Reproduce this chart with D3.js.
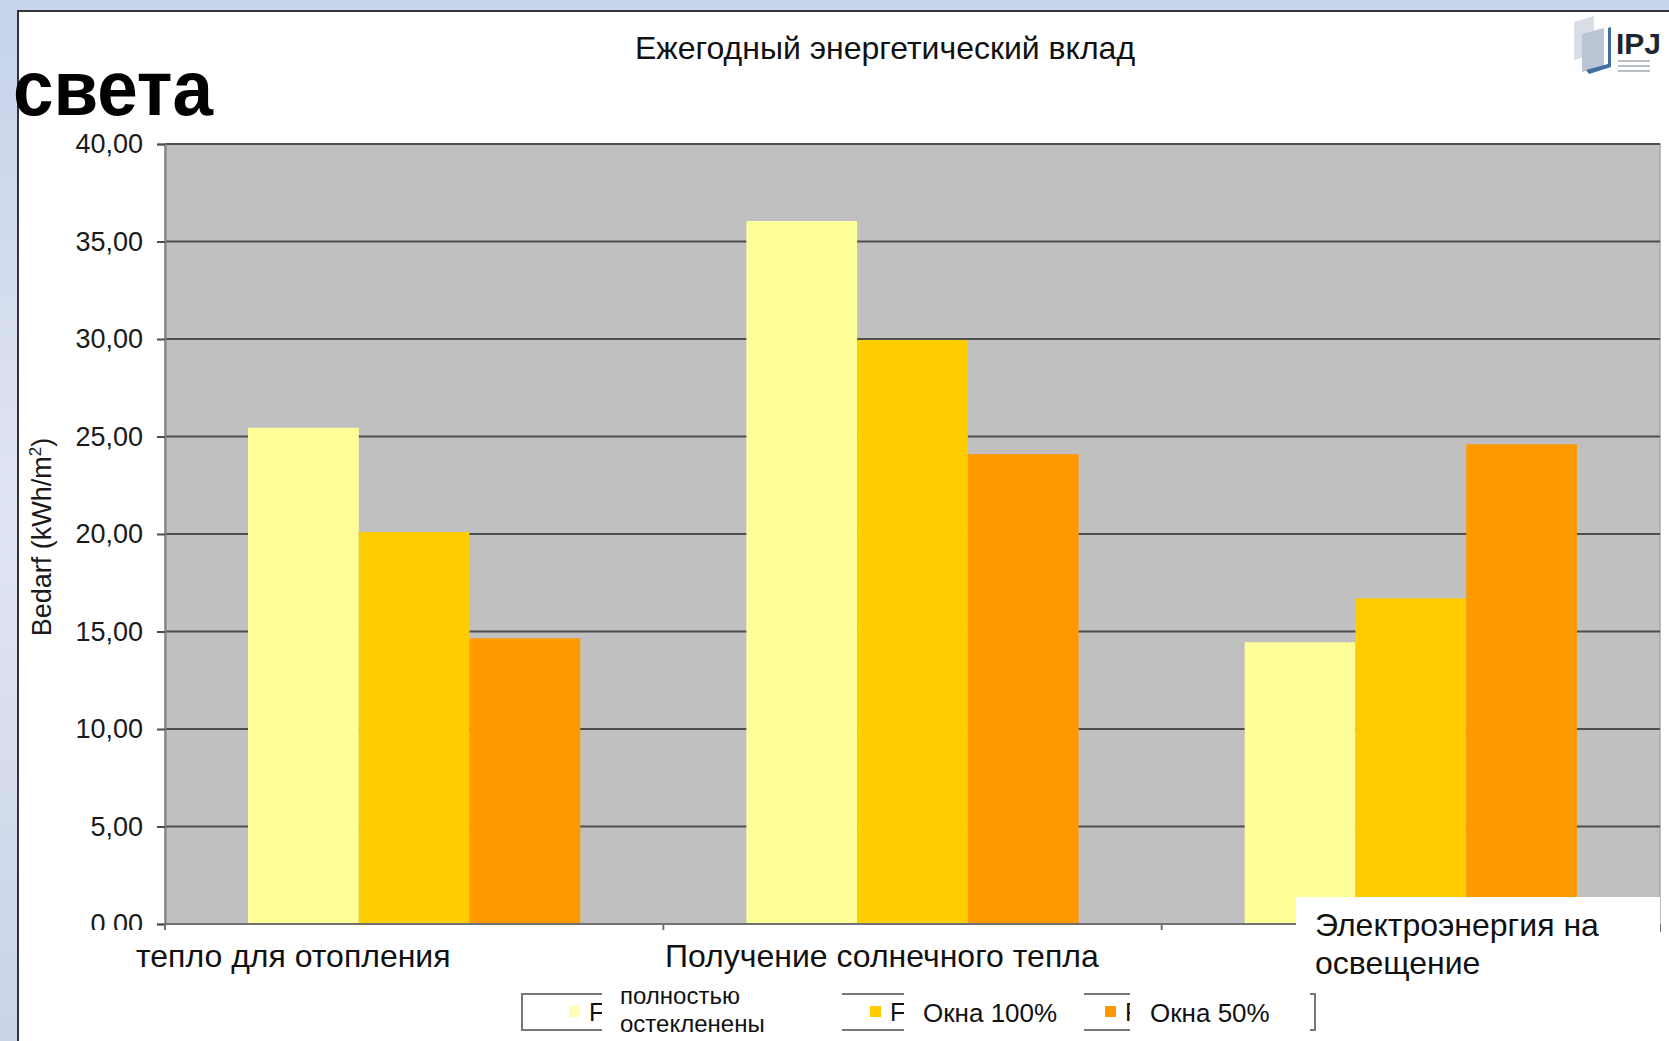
<!DOCTYPE html>
<html lang="ru">
<head>
<meta charset="UTF-8">
<title>Ежегодный энергетический вклад</title>
<style>
  html, body { margin: 0; padding: 0; background: #fff; }
  svg { display: block; font-family: "Liberation Sans", Arial, sans-serif; }
</style>
</head>
<body>
<div id="chart"></div>
<script src="https://d3js.org/d3.v7.min.js"></script>
<script>
// data
const categories = ['тепло для отопления', 'Получение солнечного тепла', 'Электроэнергия на освещение'];
const seriesNames = ['полностью остекленены', 'Окна 100%', 'Окна 50%'];
const fullyGlazed = [25.45, 36.05, 14.45];
const windows100 = [20.10, 29.95, 16.70];
const windows50 = [14.65, 24.10, 24.60];
const yTicks = [0, 5, 10, 15, 20, 25, 30, 35, 40];
const colors = ['#ffff99', '#ffcc00', '#ff9900'];

const seriesValues = [fullyGlazed, windows100, windows50];
const rows = categories.map((c, i) => ({
  cat: c,
  vals: seriesNames.map((s, j) => ({ key: s, value: seriesValues[j][i], color: colors[j] }))
}));

const W = 1669, H = 1041;
const plot = { left: 165, right: 1660, top: 144, bottom: 924 };

const svg = d3.select('#chart').append('svg')
  .attr('width', W).attr('height', H);

// slide background + chart frame
const defs = svg.append('defs');
const bg = defs.append('linearGradient').attr('id', 'slide-bg')
  .attr('x1', '0%').attr('y1', '0%').attr('x2', '0%').attr('y2', '100%');
bg.append('stop').attr('offset', '0%').attr('stop-color', '#c6d3ea');
bg.append('stop').attr('offset', '50%').attr('stop-color', '#dfe5f2');
bg.append('stop').attr('offset', '100%').attr('stop-color', '#c9d4e8');

svg.append('rect').attr('width', W).attr('height', H).attr('fill', 'url(#slide-bg)');
svg.append('rect')
  .attr('x', 18).attr('y', 11).attr('width', W).attr('height', H)
  .attr('fill', '#fff').attr('stroke', '#333').attr('stroke-width', 2);

// scales
const x0 = d3.scaleBand().domain(categories).range([plot.left, plot.right]).padding(0);
const x1 = d3.scaleBand().domain(seriesNames).range([0, x0.bandwidth()])
  .paddingInner(0).paddingOuter(0.75);
const y = d3.scaleLinear().domain([0, 40]).range([plot.bottom, plot.top]);

// plot area
svg.append('rect')
  .attr('x', plot.left).attr('y', plot.top)
  .attr('width', plot.right - plot.left).attr('height', plot.bottom - plot.top)
  .attr('fill', '#c0c0c0').attr('stroke', '#a8a8a8').attr('stroke-width', 1.5);

// gridlines
svg.append('g').selectAll('line')
  .data(yTicks.filter(d => d > 0))
  .enter().append('line')
  .attr('x1', plot.left).attr('x2', plot.right)
  .attr('y1', d => y(d)).attr('y2', d => y(d))
  .attr('stroke', '#4d4d4d').attr('stroke-width', 2);

// bars
const groups = svg.append('g').selectAll('g')
  .data(rows).enter().append('g')
  .attr('transform', d => `translate(${x0(d.cat)},0)`);

groups.selectAll('rect')
  .data(d => d.vals).enter().append('rect')
  .attr('x', d => x1(d.key))
  .attr('width', x1.bandwidth())
  .attr('y', d => y(d.value))
  .attr('height', d => y(0) - y(d.value))
  .attr('fill', d => d.color);

// y axis
const yAxis = d3.axisLeft(y).tickValues(yTicks).tickSize(8).tickPadding(14)
  .tickFormat(d => d3.format('.2f')(d).replace('.', ','));
const gy = svg.append('g').attr('transform', `translate(${plot.left},0)`).call(yAxis);
gy.select('.domain').attr('stroke', '#808080').attr('stroke-width', 2);
gy.selectAll('.tick line').attr('stroke', '#4d4d4d').attr('stroke-width', 2);
gy.selectAll('.tick text').attr('font-size', 27).attr('fill', '#1a1a1a')
  .attr('font-family', '"Liberation Sans", Arial, sans-serif');

// x axis (category separators)
const sep = categories.map(c => x0(c)).concat([plot.right]);
svg.append('line')
  .attr('x1', plot.left).attr('x2', plot.right)
  .attr('y1', plot.bottom).attr('y2', plot.bottom)
  .attr('stroke', '#707070').attr('stroke-width', 2);
svg.append('g').selectAll('line').data(sep).enter().append('line')
  .attr('x1', d => d).attr('x2', d => d)
  .attr('y1', plot.bottom).attr('y2', plot.bottom + 8)
  .attr('stroke', '#707070').attr('stroke-width', 2);

// axis title
svg.append('text')
  .attr('transform', 'translate(51,537) rotate(-90)')
  .attr('text-anchor', 'middle')
  .attr('font-size', 27).attr('fill', '#1a1a1a')
  .html('Bedarf (kWh/m<tspan dy="-10" font-size="17">2</tspan><tspan dy="10">)</tspan>');

// chart title
svg.append('text')
  .attr('x', 885).attr('y', 59)
  .attr('text-anchor', 'middle')
  .attr('font-size', 32).attr('fill', '#111')
  .text('Ежегодный энергетический вклад');

// overlaid slide word
svg.append('text')
  .attr('x', 13).attr('y', 115)
  .attr('font-size', 78).attr('font-weight', 'bold').attr('fill', '#000')
  .attr('textLength', 200).attr('lengthAdjust', 'spacingAndGlyphs')
  .text('света');

// logo (rough)
const logo = svg.append('g').attr('transform', 'translate(1564,14)');
logo.append('path').attr('d', 'M10,8 L30,2 L30,40 L10,46 Z').attr('fill', '#d8dde6');
logo.append('path').attr('d', 'M18,20 L40,14 L40,52 L18,58 Z').attr('fill', '#b9c4d4');
logo.append('path').attr('d', 'M22,56 L44,50 L44,14 L47,13 L47,53 L25,60 Z').attr('fill', '#3f6f9f');
logo.append('text').attr('x', 52).attr('y', 40).attr('font-size', 30)
  .attr('font-weight', 'bold').attr('fill', '#1d2530').text('IPJ');
[47, 52, 57].forEach(yy => logo.append('line').attr('x1', 54).attr('x2', 86)
  .attr('y1', yy).attr('y2', yy).attr('stroke', '#8a94a0').attr('stroke-width', 1.2));

// white text box under the axis with category labels
svg.append('rect').attr('x', 70).attr('y', 930).attr('width', 1226).attr('height', 55).attr('fill', '#fff');
svg.append('text').attr('x', 136).attr('y', 967).attr('font-size', 32).attr('fill', '#111')
  .text(categories[0]);
svg.append('text').attr('x', 665).attr('y', 967).attr('font-size', 32).attr('fill', '#111')
  .text(categories[1]);
svg.append('rect').attr('x', 1296).attr('y', 897).attr('width', 364).attr('height', 144).attr('fill', '#fff');
svg.append('text').attr('x', 1315).attr('y', 936).attr('font-size', 32).attr('fill', '#111')
  .text('Электроэнергия на');
svg.append('text').attr('x', 1315).attr('y', 974).attr('font-size', 32).attr('fill', '#111')
  .text('освещение');

// legend
svg.append('rect').attr('x', 522).attr('y', 994).attr('width', 793).attr('height', 36)
  .attr('fill', '#fff').attr('stroke', '#777').attr('stroke-width', 2);
const swatchX = [569, 870, 1105];
const legend = svg.append('g').selectAll('g').data(seriesNames).enter().append('g');
legend.append('rect')
  .attr('x', (d, i) => swatchX[i]).attr('y', 1006).attr('width', 11).attr('height', 11)
  .attr('fill', (d, i) => colors[i]).attr('opacity', (d, i) => i === 0 ? 0.7 : 1);
legend.append('text')
  .attr('x', (d, i) => swatchX[i] + 20).attr('y', 1021)
  .attr('font-size', 25).attr('fill', '#111').text('F');
// overlay boxes with the russian series names
const overX = [602, 904, 1130];
const overW = [240, 180, 180];
legend.append('rect')
  .attr('x', (d, i) => overX[i]).attr('y', 984).attr('width', (d, i) => overW[i]).attr('height', 57)
  .attr('fill', '#fff');
svg.append('text').attr('x', 620).attr('y', 1004).attr('font-size', 24).attr('fill', '#111').text('полностью');
svg.append('text').attr('x', 620).attr('y', 1032).attr('font-size', 24).attr('fill', '#111').text('остекленены');
svg.append('text').attr('x', 923).attr('y', 1022).attr('font-size', 26).attr('fill', '#111').text(seriesNames[1]);
svg.append('text').attr('x', 1150).attr('y', 1022).attr('font-size', 26).attr('fill', '#111').text(seriesNames[2]);
</script>
</body>
</html>
